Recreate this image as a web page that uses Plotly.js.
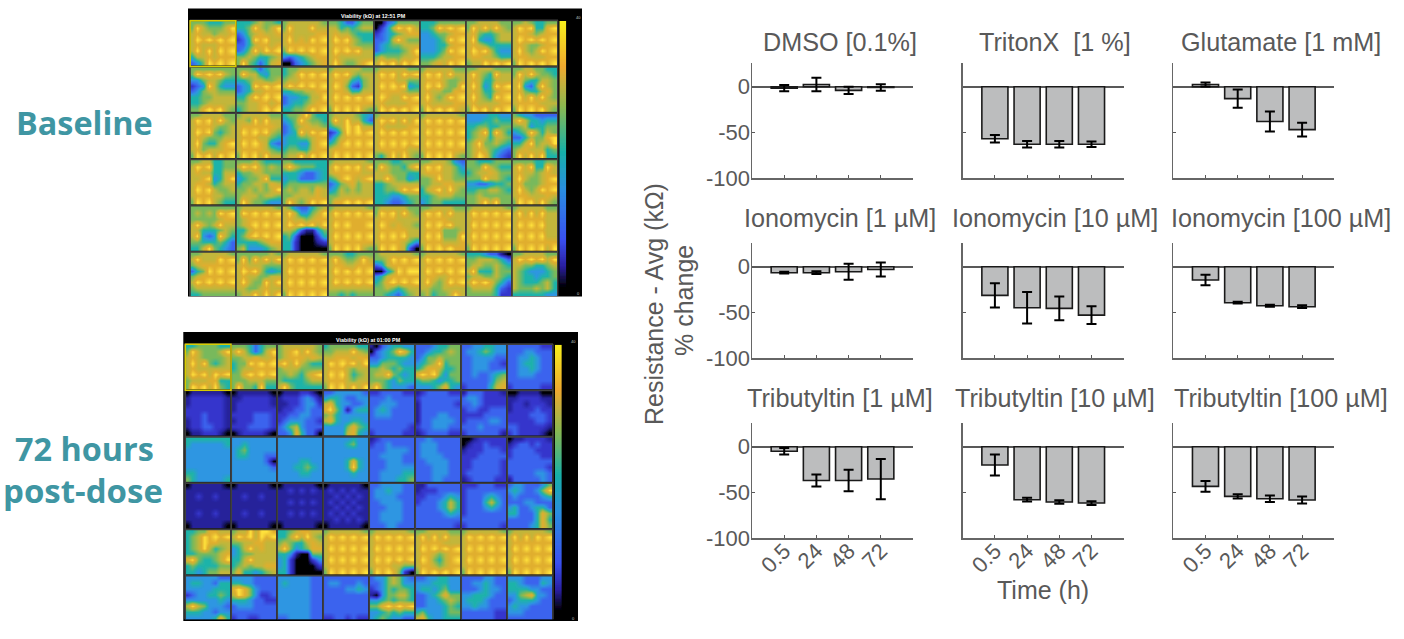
<!DOCTYPE html>
<html><head><meta charset="utf-8">
<script src="https://cdn.plot.ly/plotly-3.0.1.min.js"></script>
<style>html,body{margin:0;padding:0;background:#fff}#c{width:1404px;height:639px}</style>
</head><body><svg width="0" height="0" style="position:absolute"><defs><filter id="soft" x="0" y="0" width="1" height="1"><feGaussianBlur stdDeviation="0.75"/></filter></defs></svg><div id="c"></div>
<script>
// ---------- bar chart data ----------
const timeLabels = ['0.5','24','48','72'];
const panelTitles = ['DMSO [0.1%]','TritonX \u00a0[1 %]','Glutamate [1 mM]',
 'Ionomycin [1 µM]','Ionomycin [10 µM]','Ionomycin [100 µM]',
 'Tributyltin [1 µM]','Tributyltin [10 µM]','Tributyltin [100 µM]'];
const dmso=[-1.5,2.5,-4,-0.8], dmsoErr=[3.5,7.5,4,3.5];
const triton=[-57,-63,-63,-63], tritonErr=[4,3.5,3.5,3];
const glutamate=[2.5,-13,-38,-47], glutamateErr=[2.2,10,11,7.5];
const iono1=[-6.5,-6.5,-5.5,-3], iono1Err=[1,1.5,8.8,7.7];
const iono10=[-31.4,-45,-45.6,-53], iono10Err=[13.3,17.3,13,9.7];
const iono100=[-14.6,-39.4,-42.7,-43.8], iono100Err=[5.7,1,1,1.5];
const tbt1=[-5,-37,-37,-35.4], tbt1Err=[3.5,6.5,11.7,22];
const tbt10=[-20,-58,-60.6,-61.7], tbt10Err=[11.5,2,2,2];
const tbt100=[-43.4,-54.4,-57,-58.4], tbt100Err=[6,2.4,3.5,3.8];
const panelValues=[dmso,triton,glutamate,iono1,iono10,iono100,tbt1,tbt10,tbt100];
const panelErrors=[dmsoErr,tritonErr,glutamateErr,iono1Err,iono10Err,iono100Err,tbt1Err,tbt10Err,tbt100Err];

// ---------- plate data: one string per well, 8 rows of 8 colour levels (0 black ... 9 yellow) ----------
const baselineWells = [
"66655566 69766679 78776778 79898989 78777888 79797989 57787888 34698989",
"55567665 55697679 34678778 23598977 33578878 34697989 66765567 69653578",
"67777776 69777977 78777788 79787989 78888888 69898989 43456788 00345678",
"66533566 77565677 78776555 79897655 78887666 79898977 78777777 79766789",
"00346666 02479897 23456788 33479766 34566777 34555679 67666778 79897989",
"55566666 55698989 44566788 44456989 44455788 44456989 55567788 66787989",
"66777766 69797976 78655677 79544677 78765555 79897544 78877655 67798989",
"66765566 79895589 78876788 79898989 78766788 79767989 78877788 69898989",

"66666666 69898976 44677655 23497544 34677666 55667777 55677777 66898976",
"66653566 69775466 55677667 34598989 34577888 55798989 66778878 56778989",
"56677777 56798989 67788888 79898989 55667788 34455779 34556788 55667989",
"67777766 79897677 78875467 79863267 78875577 79898989 78888888 69898976",
"67777766 79897989 78887766 79898945 78888766 79877989 78777788 69898989",
"67777766 79897977 78887667 79897669 78776688 79767989 78777788 69898987",
"66777666 79765977 78755777 79745989 78755788 79765989 78777788 69897989",
"66776655 69797665 78655776 79436976 78655786 79797976 78888777 69898976",

"66777766 79897976 78887667 79896567 78766677 79655789 78677788 69897989",
"67777766 77697977 78888887 79898976 78887765 79898743 78888765 69897977",
"56679655 45697665 34678776 34597989 45566788 45544789 56655788 67797989",
"67777654 69797753 56798977 23698989 35788888 56898989 78888888 79898989",
"67777777 79897979 78777788 79898989 78888888 79898989 78888877 65797976",
"67777776 79898989 78888888 79898989 78888888 79898989 78888888 69898976",
"44445544 44455655 55665566 56795975 56775776 67966765 67876543 67986432",
"65443333 79755455 66745566 45697576 33576689 55796779 67877756 69797955",

"66775566 79895566 78775577 77894579 78875677 79897667 78887766 69897655",
"66676555 79897676 56677666 45667955 56677687 66767679 67776776 69766544",
"66555555 79766655 55543345 45533345 56666666 67677687 66777787 69767989",
"67777776 79898979 78888877 56898789 34678677 45767677 66777777 68898989",
"66655666 69766579 77766655 77976645 55677777 55667989 55544566 55433456",
"66777643 79897764 78887765 66797766 66778877 57897976 55677766 45665555",
"66555666 66697655 56778766 66697765 44334556 55667765 66766666 66797966",
"66665566 79795597 78776787 79766789 78666788 79767989 78877787 69897976",

"66666666 67676989 66666788 79767977 77555676 79434975 66555653 55796543",
"67777776 69898989 67888888 67898989 55788888 56898989 55556788 67444567",
"76433567 79744679 78776788 79898979 77631146 56300025 55200012 55200000",
"67777776 79898989 78888888 79898889 78888888 79898989 78888888 69898976",
"67777766 69897976 78887777 79878776 78888877 79898977 78888764 69898730",
"66777766 79897977 78888777 79898977 78886667 79896669 78887778 69898988",
"67777776 79898989 78888888 79898989 78888888 79898989 78888888 69898989",
"67777766 79797977 78888877 79898977 78888877 79898977 78888888 69898979",

"66777776 79777989 67888888 35698989 67888888 79898989 67777777 55666666",
"66666676 69697979 78777666 79897545 78776677 79766979 77667877 67797979",
"67777776 79898989 78888888 79898989 78888888 79898989 78888888 69898989",
"66655666 79766797 78877888 79898989 78888888 79898989 77777777 66565666",
"67777776 66798989 34788888 00469899 45788888 56898989 66765677 66543567",
"67777776 79898989 78888888 79898989 78877888 79767989 77667777 67566797",
"55543310 66777653 67766765 79555766 67766765 79898653 67777532 66666522",
"66777766 79898979 77665567 76544456 76554556 76555675 76667675 55555544"
];
const postDoseWells = [
"55666655 69766679 78766667 79796567 78777777 79897989 67778855 69897965",
"66653566 79753579 66778778 56698989 56778888 66898989 66677766 69665955",
"67777776 67897976 67888787 89797655 67776666 66765789 65555677 79655555",
"56666655 66777976 77888788 79898979 78887677 79897567 78887677 69897979",
"10345544 03456985 33455554 44666544 66765655 67796545 66654655 79654443",
"33345566 33455676 34667666 45679566 56887556 89896466 56654556 44456854",
"33445544 34456544 33444433 33444332 33444333 33433456 33333467 23333578",
"33333322 33344333 33445433 33455433 33445433 33444333 33333333 23333322",

"01111110 12222221 12222221 22222221 22232221 12232221 12233221 01122210",
"01111110 11222221 12222221 12222222 22223332 12223332 22233332 01222210",
"01112210 12223431 11223442 12233433 22334433 23444332 34674333 33485330",
"33444443 45543344 78544334 89641455 67544444 78544554 44446865 44447854",
"22333322 33343333 33444333 34543333 34443333 33333333 33333332 23333322",
"12333322 23333333 13333332 13333333 13334433 13344443 23344433 12333322",
"13332221 34432222 33432222 23322333 22223333 23333443 33343333 23333331",
"00111100 11222211 12212221 12222322 22223332 22222332 33222221 23222210",

"55555555 54444445 44444444 44444444 44444444 44444444 55444444 65444445",
"44444444 44544444 45644444 45544433 44444430 44444443 44444444 44444444",
"44444444 44444444 44444444 44444444 44445544 44455654 44445544 44444444",
"44444544 44445644 44444444 44444444 44445854 44445954 44444544 44444444",
"12333333 23343333 33344443 33444433 33344433 33344444 33444455 33444556",
"33433333 34443333 34443333 34444333 33444433 33344433 33344433 33344333",
"00122222 01223222 12223332 22233333 22333332 22333332 23333332 12333322",
"01122221 12332322 23333222 23333322 33333333 33333332 33333443 13333343",

"01111110 11111111 11211211 11111111 11111111 11211211 11111111 01111110",
"01111110 11111111 11211211 11111111 11111111 11211211 11111111 01111110",
"01111110 11212121 11111111 11212121 11111111 11212121 11111111 01111110",
"01111110 12121211 11212121 12121211 11212121 12121211 11212121 01111110",
"33444433 34454433 34444333 33444433 33344433 33444433 33444433 33344333",
"11333333 12223333 22333454 23334575 33334575 33333454 33333333 33333332",
"22233322 23333333 23334543 23335753 23334543 23333333 33333333 23333332",
"34433346 45433469 34333345 33344333 45334553 55333586 33333585 33334586",

"55668877 56798989 56798877 56797567 55666678 89655679 56555566 55456677",
"67797998 79897989 66778877 45797877 45667777 55797777 56767788 68554567",
"55678877 55797976 67655787 79645688 55410066 45200024 45200002 55200000",
"67777776 79898989 78888888 79898989 78888888 79898989 78888888 69898989",
"67777776 79898989 78888888 79898989 78888888 79898989 78887766 69898620",
"66777766 79797977 78888777 79898989 78876788 79865789 78876788 69898989",
"67777776 79898989 78888888 79898989 78888888 79898989 78888888 69898989",
"67777776 79797989 78888888 79898989 78888888 79898989 78888888 69898989",

"44444433 45544355 44444555 23445565 44444454 79764443 55544344 44444585",
"44443333 55443333 89864333 79864223 55543322 34443333 33333333 23322333",
"44444433 45444433 44444433 44444433 44444433 44444433 44444433 33444433",
"33333333 34433343 33334454 33333333 33333333 33333333 33333333 22332322",
"34467643 33467644 23465665 10466775 44565665 66898989 44565655 45654433",
"33445544 44455544 45545644 33456866 33445676 33444565 56444566 78544555",
"33334433 33445433 33345443 44555433 45554333 44544333 33333322 33333322",
"44433344 55433354 55554433 44678443 34555433 45443333 44433333 33333333"
];
const plateTitles=['Viability (kΩ) at 12:51 PM','Viability (kΩ) at 01:00 PM'];
const colorbarLevels=[1,.9,.83,.75,.68,.6,.51,.44,.37,.28,.18,.08,.03,0];

// ---------- layout helpers ----------
const W=1404,H=639;
const px=x=>x/W, py=y=>1-y/H;
const levelScale=[[0,'#000000'],[1/9,'#25229a'],[2/9,'#3636cc'],[3/9,'#3b64ee'],[4/9,'#2e96e2'],[5/9,'#1fb3a9'],
 [6/9,'#78b95c'],[7/9,'#c2b63a'],[8/9,'#e0ae2e'],[1,'#ffe23c']];
const barScale=[[0,'#000000'],[.08,'#2a1fa0'],[.18,'#3a50f0'],[.37,'#2a8ee0'],[.51,'#17b0a8'],[.68,'#8ab850'],[.83,'#efa92f'],[1,'#f8ef1c']];
const grey='#595959';
const traces=[], annotations=[], shapes=[];
const layout={width:W,height:H,margin:{l:0,r:0,t:0,b:0},paper_bgcolor:'#fff',plot_bgcolor:'rgba(0,0,0,0)',
 showlegend:false,font:{family:'"Liberation Sans",Arial,sans-serif',color:grey},annotations,shapes};
function note(text,x,y,size,opt){annotations.push(Object.assign({text,xref:'paper',yref:'paper',x:px(x),y:py(y),
 xanchor:'center',yanchor:'middle',showarrow:false,font:{size,color:grey}},opt||{}));}

// ---------- bar panels ----------
const colX=[752,962.7,1173.3], rowY=[63.3,243.3,423.3], pw=161, ph=114.7;
panelValues.forEach((vals,i)=>{
  const c=i%3,r=Math.floor(i/3),n=i+1;
  traces.push({type:'bar',x:[1,2,3,4],y:vals,width:0.81,xaxis:'x'+n,yaxis:'y'+n,
    marker:{color:'#bcbdbe',line:{color:'#1a1a1a',width:1.6}},
    error_y:{type:'data',array:panelErrors[i],visible:true,color:'#000',thickness:2,width:5}});
  layout['xaxis'+n]={domain:[px(colX[c]),px(colX[c]+pw)],anchor:'y'+n,range:[0,5],tickmode:'array',tickvals:[1,2,3,4],
    ticktext:timeLabels,showticklabels:r===2,tickangle:-45,ticks:'inside',ticklen:3,tickwidth:1,tickcolor:grey,ticklabelstandoff:-10,
    showline:true,linecolor:'#666',linewidth:1.5,showgrid:false,zeroline:false,tickfont:{size:22,color:grey}};
  layout['yaxis'+n]={domain:[py(rowY[r]+ph),py(rowY[r])],anchor:'x'+n,range:[-100,25.7],tickmode:'array',tickvals:[0,-50,-100],
    ticktext:['0','-50','-100'],showticklabels:c===0,ticks:'inside',ticklen:3,tickwidth:1,tickcolor:grey,ticklabelstandoff:-4,
    showline:true,linecolor:'#666',linewidth:1.5,showgrid:false,zeroline:true,zerolinecolor:grey,zerolinewidth:1.5,
    tickfont:{size:22,color:grey}};
});
const titleX=[840,1055,1281], titleY=[42,218,398];
panelTitles.forEach((t,i)=>note(t,titleX[i%3],titleY[Math.floor(i/3)],25.2));
note('Resistance - Avg (kΩ)',654,304,25,{textangle:-90});
note('% change',684,301,25,{textangle:-90});
note('Time (h)',1043,590,25);

// ---------- plates ----------
const nodes=[.04,.15,.28,.41,.53,.65,.78,.92];
const pitchX=46,pitchY=46.3,cols=8,rows=6;
const plates=[
 {wells:baselineWells,left:190.5,top:21,bgL:188,bgT:8.5,bgR:582,bgB:296.5,barX:559.3,barB:287,bottom:296.2},
 {wells:postDoseWells,left:185.7,top:344.7,bgL:183.3,bgT:332,bgR:578,bgB:621,barX:554.8,barB:611,bottom:619.5}];
plates.forEach((p,k)=>{
  const xa='x'+(10+k*2),ya='y'+(10+k*2),xb='x'+(11+k*2),yb='y'+(11+k*2);
  shapes.push({type:'rect',xref:'paper',yref:'paper',x0:px(p.bgL),x1:px(p.bgR),y0:py(p.bgB),y1:py(p.bgT),
    fillcolor:'#000',line:{width:0},layer:'below'});
  layout['xaxis'+(10+k*2)]={domain:[px(p.left-2),px(p.left+cols*pitchX)],anchor:ya,range:[-2/pitchX,cols],visible:false};
  const spanRows=(p.bottom-p.top)/pitchY;
  layout['yaxis'+(10+k*2)]={domain:[py(p.bottom),py(p.top-2)],anchor:xa,range:[spanRows,-2/pitchY],visible:false};
  p.wells.forEach((w,idx)=>{
    const c=idx%cols,r=Math.floor(idx/cols);
    traces.push({type:'heatmap',xaxis:xa,yaxis:ya,showscale:false,hoverinfo:'skip',zsmooth:'best',zmin:0,zmax:9,
      colorscale:levelScale,
      x:nodes.map(v=>c+.005+.97*v),y:nodes.map(v=>r+.005+.97*v),
      z:w.split(' ').map(s=>s.split('').map(Number))});
  });
  for(let c=0;c<=cols;c++)shapes.push({type:'line',xref:xa,yref:ya,x0:c-.012,x1:c-.012,y0:-.012,y1:spanRows,line:{color:'#3f3f3f',width:1.8},layer:'above'});
  for(let r=0;r<rows;r++)shapes.push({type:'line',xref:xa,yref:ya,x0:-.012,x1:cols-.012,y0:r-.012,y1:r-.012,line:{color:'#3f3f3f',width:1.8},layer:'above'});
  shapes.push({type:'rect',xref:xa,yref:ya,x0:-.008,x1:.985,y0:-.008,y1:.985,line:{color:'#d8cc00',width:1.5},layer:'above'});
  // viability colour bar
  layout['xaxis'+(11+k*2)]={domain:[px(p.barX),px(p.barX+7)],anchor:yb,range:[0,1],visible:false};
  layout['yaxis'+(11+k*2)]={domain:[py(p.barB),py(p.top)],anchor:xb,range:[0,1],visible:false};
  traces.push({type:'heatmap',xaxis:xb,yaxis:yb,showscale:false,hoverinfo:'skip',zsmooth:'best',zmin:0,zmax:1,colorscale:barScale,
    x:[0,1],y:colorbarLevels,z:colorbarLevels.map(v=>[v,v])});
  note('<b>'+plateTitles[k]+'</b>',(p.bgL+p.bgR)/2-12,p.top-5.2,5.4,{font:{size:5.4,color:'#fff',family:'"Liberation Sans"'}});
  note('40',p.barX+19,p.top-3,4,{font:{size:4,color:'#ccc'}});
  note('0',p.barX+19,p.bgB-3,4,{font:{size:4,color:'#ccc'}});
});
const teal='#3f96a3', sideFont={family:'"Open Sans",sans-serif',size:32.4,color:teal};
note('<b>Baseline</b>',84,122,32,{font:sideFont});
note('<b>72 hours</b>',84,448,32,{font:sideFont});
note('<b>post-dose</b>',83,490,33,{font:Object.assign({},sideFont,{size:33})});

Plotly.newPlot('c',traces,layout,{displayModeBar:false,staticPlot:true}).then(gd=>{
  gd.querySelectorAll('.hm image').forEach(img=>img.setAttribute('filter','url(#soft)'));
});
</script></body></html>
